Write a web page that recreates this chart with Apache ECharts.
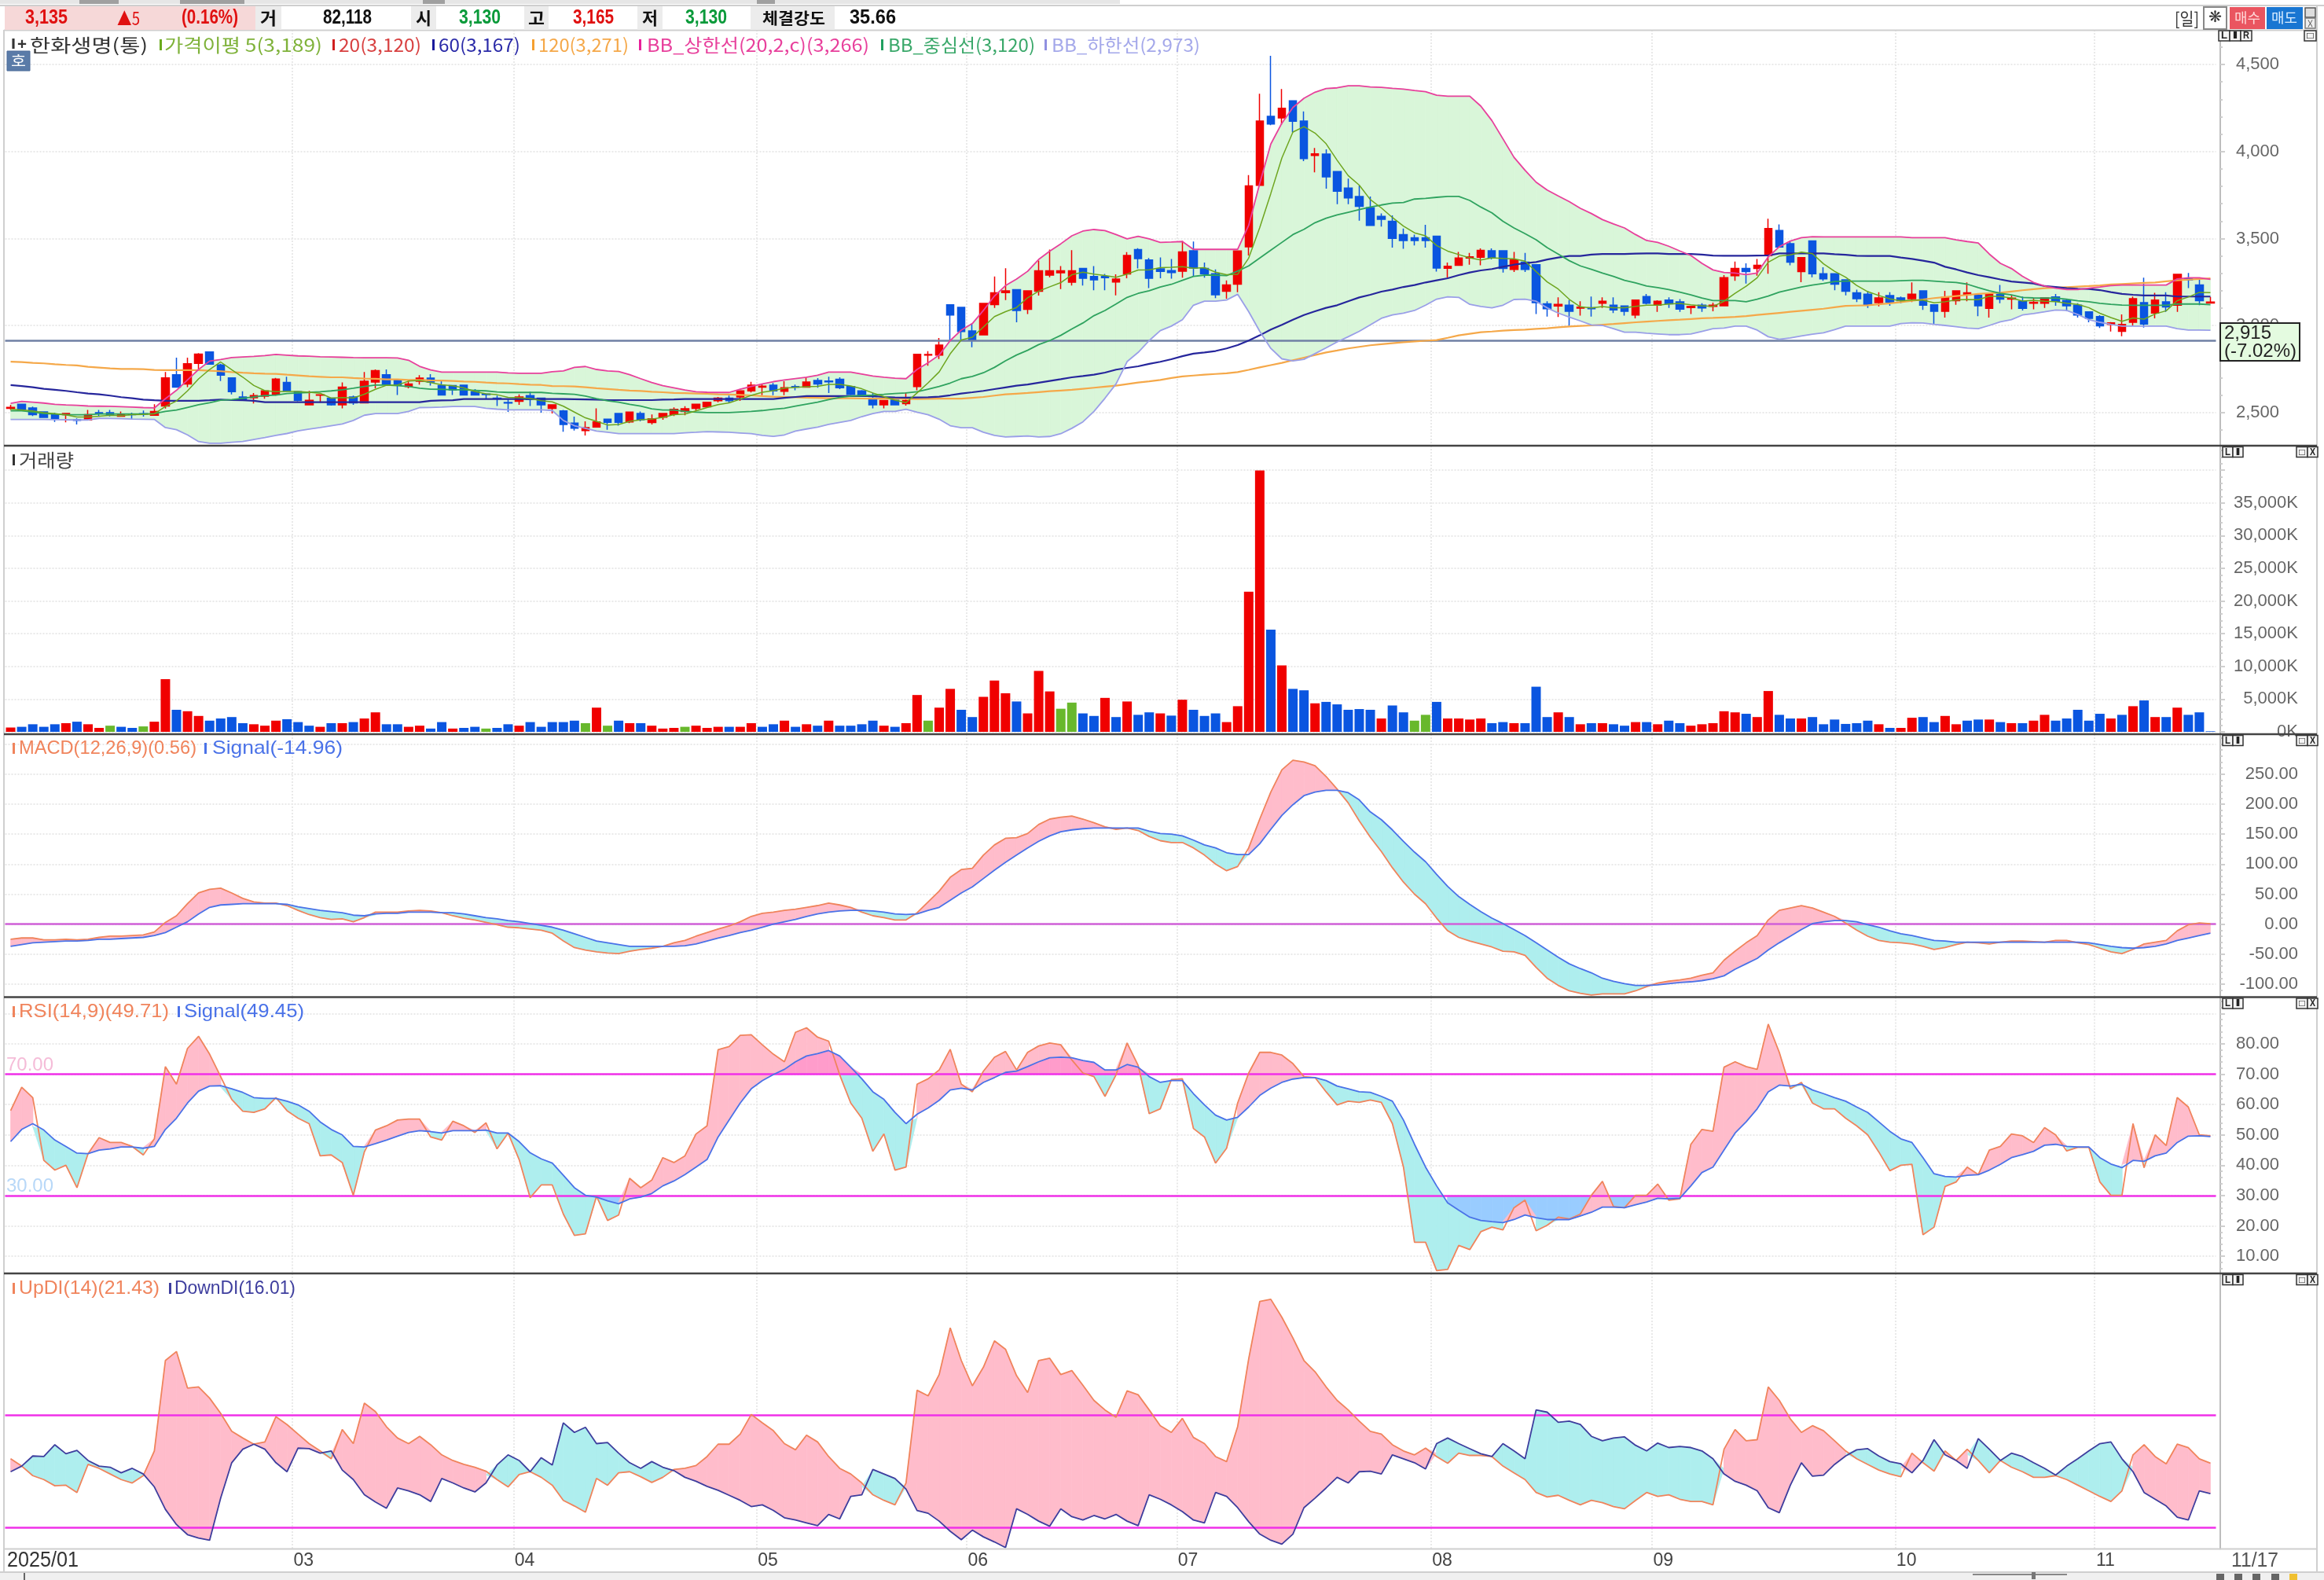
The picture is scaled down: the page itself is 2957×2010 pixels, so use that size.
<!DOCTYPE html>
<html>
<head>
<meta charset="utf-8">
<title>한화생명(통)</title>
<script src="https://cdn.jsdelivr.net/npm/echarts@6/dist/echarts.min.js"></script>
<style>
html,body{margin:0;padding:0;background:#fff;}
#main{width:2957px;height:2010px;}
</style>
</head>
<body>
<div id="main"></div>
<script>
var opens=[
2525,2548,2527,2504,2489,2488,2460,2458,2500,2500,
2479,2490,2494,2485,2538,2718,2665,2783,2849,2774,
2700,2590,2586,2595,2605,2673,2620,2545,2600,2583,
2545,2590,2556,2676,2718,2688,2650,2680,2698,2655,
2655,2658,2620,2607,2583,2558,2565,2598,2583,2525,
2510,2440,2397,2417,2462,2495,2447,2495,2443,2474,
2489,2507,2525,2534,2568,2583,2590,2625,2646,2658,
2623,2650,2646,2685,2682,2692,2650,2625,2583,2545,
2572,2552,2650,2831,2831,3120,3105,2969,2947,3121,
3190,3207,3094,3197,3290,3303,3249,3328,3282,3282,
3251,3297,3437,3377,3326,3316,3313,3430,3328,3298,
3197,3238,3453,3806,4202,4193,4291,4175,3977,3985,
3885,3790,3742,3677,3627,3599,3523,3505,3505,3513,
3329,3346,3388,3393,3430,3430,3323,3365,3350,3125,
3113,3117,3100,3103,3128,3117,3113,3061,3167,3117,
3147,3137,3104,3117,3110,3114,3287,3328,3328,3403,
3546,3471,3310,3486,3298,3298,3263,3188,3180,3132,
3173,3159,3155,3200,3120,3082,3143,3177,3174,3099,
3180,3152,3140,3128,3128,3165,3144,3117,3079,3052,
3007,2967,3019,3132,3072,3137,3117,3270,3233,3130];
var closes=[
2530,2518,2488,2473,2462,2495,2456,2488,2494,2490,
2488,2488,2492,2507,2700,2646,2781,2836,2778,2715,
2620,2571,2598,2625,2693,2625,2571,2571,2602,2545,
2646,2556,2680,2741,2661,2658,2665,2698,2676,2601,
2631,2601,2601,2604,2580,2555,2590,2575,2545,2545,
2432,2410,2414,2447,2444,2444,2503,2459,2465,2495,
2519,2522,2548,2560,2583,2568,2625,2658,2652,2625,
2643,2647,2676,2665,2677,2643,2605,2595,2545,2570,
2545,2570,2835,2834,2888,3061,2966,2917,3127,3188,
3200,3087,3200,3315,3315,3315,3315,3272,3263,3275,
3267,3403,3385,3272,3312,3305,3423,3331,3298,3177,
3233,3429,3802,4175,4158,4249,4174,3960,3987,3855,
3772,3734,3685,3576,3611,3501,3489,3489,3489,3331,
3341,3388,3395,3432,3388,3328,3377,3323,3132,3097,
3122,3082,3106,3097,3140,3090,3082,3147,3128,3140,
3125,3095,3110,3102,3117,3275,3328,3310,3347,3558,
3451,3365,3391,3298,3268,3238,3197,3155,3117,3159,
3135,3143,3180,3117,3082,3162,3200,3188,3114,3182,
3152,3158,3099,3134,3159,3140,3114,3061,3042,2999,
3016,3007,3155,3009,3147,3107,3295,3263,3143,3135];
var lows=[
2515,2515,2480,2470,2447,2444,2432,2455,2482,2478,
2477,2462,2477,2484,2523,2643,2646,2751,2775,2681,
2605,2568,2553,2580,2598,2625,2565,2544,2557,2540,
2525,2545,2555,2640,2658,2601,2640,2661,2655,2600,
2601,2600,2598,2578,2538,2504,2545,2538,2500,2495,
2390,2397,2369,2414,2402,2425,2440,2450,2432,2459,
2480,2485,2510,2530,2560,2558,2567,2616,2600,2600,
2600,2628,2643,2643,2613,2635,2600,2590,2525,2525,
2542,2540,2628,2770,2808,2914,2914,2876,2945,3102,
3147,3019,3067,3173,3278,3210,3230,3230,3203,3203,
3174,3272,3328,3215,3272,3270,3275,3283,3275,3158,
3155,3192,3403,3805,4151,4155,4110,3945,3880,3787,
3697,3697,3603,3575,3569,3448,3441,3460,3448,3310,
3275,3343,3350,3346,3380,3305,3308,3308,3067,3052,
3049,2999,3057,3052,3102,3072,3057,3042,3122,3079,
3102,3079,3067,3079,3082,3110,3257,3242,3287,3298,
3448,3346,3249,3278,3257,3203,3174,3135,3102,3110,
3114,3128,3135,3090,3007,3046,3120,3140,3054,3046,
3128,3094,3087,3094,3102,3114,3082,3046,3019,2986,
2966,2939,2997,2989,3042,3079,3079,3215,3117,3130];
var highs=[
2545,2550,2535,2505,2500,2497,2467,2515,2515,2515,
2507,2500,2512,2548,2733,2816,2816,2842,2850,2781,
2700,2623,2613,2627,2700,2706,2622,2625,2605,2585,
2673,2598,2733,2748,2748,2690,2688,2715,2721,2680,
2656,2660,2635,2610,2598,2575,2605,2620,2585,2547,
2515,2477,2450,2525,2464,2497,2505,2507,2489,2497,
2530,2537,2550,2562,2590,2598,2628,2677,2665,2670,
2680,2661,2703,2698,2706,2703,2652,2630,2613,2572,
2575,2616,2838,2853,2929,3122,3107,3012,3130,3282,
3330,3209,3202,3373,3437,3342,3433,3330,3342,3297,
3294,3422,3445,3388,3392,3383,3486,3483,3362,3323,
3260,3431,3865,4332,4550,4359,4293,4231,4020,4013,
3887,3844,3805,3742,3644,3633,3558,3523,3579,3515,
3362,3423,3418,3444,3444,3432,3423,3418,3352,3140,
3162,3147,3140,3167,3162,3162,3115,3150,3182,3145,
3162,3152,3112,3128,3132,3290,3368,3358,3383,3614,
3581,3486,3393,3488,3335,3300,3265,3207,3197,3192,
3192,3167,3248,3202,3122,3200,3202,3248,3176,3184,
3234,3173,3167,3155,3161,3182,3152,3128,3081,3060,
3020,3064,3167,3275,3188,3192,3297,3302,3263,3165];
var ma5=[
2520,2515,2510,2500,2494,2487,2475,2475,2479,2485,
2483,2488,2490,2493,2535,2567,2625,2694,2748,2791,
2746,2704,2656,2626,2621,2622,2622,2617,2612,2583,
2587,2584,2606,2634,2657,2659,2681,2685,2672,2660,
2654,2642,2622,2608,2603,2588,2586,2581,2569,2562,
2537,2503,2470,2450,2429,2432,2450,2459,2463,2473,
2488,2492,2510,2529,2546,2556,2577,2599,2617,2626,
2641,2645,2649,2651,2662,2662,2653,2637,2613,2592,
2572,2557,2613,2671,2734,2838,2917,2933,2992,3052,
3080,3104,3160,3198,3223,3247,3292,3307,3296,3288,
3278,3296,3319,3320,3333,3335,3339,3329,3333,3307,
3292,3294,3388,3563,3759,3963,4112,4143,4106,4045,
3950,3862,3807,3724,3676,3621,3572,3533,3516,3460,
3428,3408,3389,3377,3389,3386,3384,3370,3310,3251,
3210,3151,3108,3101,3109,3103,3103,3111,3117,3117,
3124,3127,3120,3114,3110,3140,3186,3226,3275,3364,
3399,3406,3422,3413,3355,3312,3278,3231,3195,3173,
3153,3142,3147,3147,3131,3137,3148,3150,3149,3169,
3167,3159,3141,3145,3140,3138,3129,3122,3103,3071,
3046,3025,3044,3037,3067,3085,3143,3164,3191,3189];
var ma60=[
2658,2653,2646,2637,2631,2625,2617,2610,2605,2598,
2589,2583,2575,2571,2568,2568,2568,2568,2571,2575,
2572,2571,2568,2560,2560,2560,2560,2560,2560,2560,
2560,2560,2560,2560,2560,2560,2560,2560,2568,2570,
2571,2578,2578,2578,2578,2578,2578,2578,2578,2578,
2578,2577,2576,2575,2572,2572,2572,2572,2572,2575,
2576,2578,2578,2578,2578,2578,2578,2578,2578,2578,
2585,2590,2595,2595,2595,2595,2595,2595,2595,2590,
2587,2586,2587,2588,2592,2600,2610,2617,2625,2635,
2645,2655,2662,2672,2682,2692,2703,2710,2718,2730,
2747,2757,2766,2780,2792,2807,2824,2839,2846,2854,
2869,2888,2914,2944,2977,3004,3034,3061,3082,3102,
3117,3140,3162,3177,3195,3207,3222,3233,3248,3260,
3272,3290,3305,3317,3325,3338,3350,3358,3365,3380,
3391,3400,3400,3408,3411,3411,3411,3414,3415,3415,
3411,3411,3411,3408,3402,3401,3401,3401,3402,3403,
3415,3415,3415,3415,3415,3410,3407,3401,3400,3400,
3400,3391,3383,3373,3362,3338,3323,3305,3290,3278,
3265,3253,3248,3242,3227,3222,3215,3212,3210,3204,
3192,3182,3177,3173,3173,3173,3167,3167,3167,3167];
var ma120=[
2793,2790,2786,2783,2778,2774,2771,2763,2759,2754,
2751,2751,2750,2745,2744,2744,2744,2744,2741,2738,
2733,2729,2726,2724,2723,2718,2714,2709,2706,2703,
2703,2699,2696,2694,2691,2691,2688,2688,2685,2684,
2682,2679,2677,2673,2670,2668,2664,2661,2659,2653,
2652,2650,2646,2640,2636,2631,2627,2624,2620,2617,
2613,2612,2610,2608,2605,2604,2602,2599,2595,2592,
2590,2588,2586,2585,2583,2583,2583,2581,2580,2580,
2580,2579,2578,2579,2580,2580,2580,2585,2590,2598,
2605,2609,2613,2618,2623,2627,2631,2637,2643,2649,
2655,2664,2673,2680,2688,2699,2708,2713,2718,2722,
2726,2733,2746,2760,2773,2786,2801,2816,2831,2846,
2857,2869,2878,2887,2893,2899,2904,2909,2913,2917,
2930,2944,2953,2962,2966,2971,2974,2977,2981,2985,
2990,2995,2998,3001,3005,3009,3014,3019,3023,3027,
3031,3034,3038,3042,3044,3047,3050,3055,3061,3067,
3073,3079,3085,3091,3097,3105,3113,3115,3117,3122,
3128,3135,3143,3150,3158,3164,3170,3176,3182,3186,
3189,3196,3203,3209,3215,3218,3221,3224,3227,3231,
3236,3239,3242,3245,3248,3254,3260,3264,3268,3271];
var bbUpper=[
2553,2565,2560,2555,2548,2544,2542,2538,2537,2536,
2534,2532,2529,2527,2580,2628,2688,2748,2796,2805,
2816,2820,2823,2828,2834,2830,2826,2824,2821,2820,
2818,2816,2815,2815,2815,2814,2801,2766,2745,2733,
2733,2733,2733,2733,2733,2728,2726,2726,2726,2735,
2740,2760,2765,2748,2740,2736,2718,2695,2673,2655,
2643,2630,2620,2617,2616,2616,2635,2650,2665,2678,
2688,2696,2703,2715,2733,2733,2733,2722,2710,2703,
2698,2695,2748,2786,2831,2914,2974,3012,3087,3170,
3230,3267,3312,3380,3428,3470,3516,3543,3552,3546,
3523,3498,3513,3498,3478,3480,3483,3438,3438,3438,
3438,3438,3576,3817,4043,4163,4253,4306,4341,4362,
4366,4378,4378,4371,4369,4363,4359,4351,4344,4324,
4318,4318,4318,4261,4178,4073,3967,3892,3824,3779,
3745,3712,3674,3644,3609,3584,3561,3523,3489,3478,
3456,3429,3403,3358,3320,3305,3302,3293,3302,3395,
3453,3486,3505,3511,3510,3510,3510,3510,3510,3510,
3510,3510,3505,3505,3505,3505,3493,3483,3475,3411,
3358,3328,3283,3248,3227,3215,3207,3207,3215,3222,
3230,3233,3233,3233,3233,3233,3268,3275,3275,3266];
var bbMiddle=[
2510,2510,2504,2495,2492,2488,2488,2488,2492,2492,
2492,2492,2492,2495,2507,2515,2530,2545,2557,2571,
2575,2583,2590,2598,2601,2610,2613,2616,2620,2625,
2631,2640,2650,2658,2658,2655,2650,2640,2635,2634,
2631,2631,2628,2625,2619,2616,2616,2616,2616,2611,
2608,2605,2595,2580,2568,2560,2548,2537,2522,2515,
2515,2507,2503,2500,2500,2500,2504,2507,2512,2519,
2525,2537,2549,2560,2575,2587,2595,2598,2601,2605,
2610,2613,2620,2635,2650,2670,2695,2708,2729,2760,
2798,2831,2858,2891,2914,2944,2981,3015,3057,3087,
3124,3162,3185,3200,3222,3237,3260,3283,3290,3290,
3287,3313,3343,3388,3433,3478,3523,3553,3591,3617,
3636,3651,3666,3681,3693,3704,3707,3727,3731,3737,
3742,3742,3719,3681,3648,3599,3561,3528,3493,3448,
3411,3373,3343,3323,3302,3283,3260,3245,3227,3218,
3207,3192,3177,3158,3144,3144,3144,3137,3152,3170,
3192,3207,3222,3233,3242,3253,3256,3256,3256,3256,
3256,3258,3260,3260,3256,3251,3248,3238,3218,3200,
3185,3177,3162,3159,3158,3158,3152,3143,3137,3128,
3122,3118,3117,3117,3117,3117,3124,3124,3124,3120];
var bbLower=[
2461,2461,2461,2461,2460,2459,2458,2458,2467,2466,
2465,2463,2462,2461,2414,2402,2372,2334,2324,2324,
2330,2334,2346,2357,2369,2380,2395,2405,2414,2425,
2435,2455,2485,2495,2495,2495,2507,2529,2530,2532,
2535,2535,2535,2525,2520,2516,2516,2516,2516,2512,
2455,2425,2410,2394,2387,2379,2379,2379,2379,2379,
2379,2384,2387,2391,2389,2387,2383,2379,2369,2364,
2372,2394,2406,2417,2432,2444,2455,2477,2495,2507,
2507,2519,2503,2488,2462,2425,2413,2413,2387,2369,
2360,2363,2366,2360,2363,2379,2410,2447,2507,2583,
2665,2793,2846,2914,2971,2997,3034,3117,3140,3140,
3147,3180,3080,2967,2869,2809,2797,2806,2839,2872,
2906,2936,2967,3004,3042,3061,3072,3087,3117,3152,
3165,3162,3122,3110,3102,3117,3150,3152,3140,3102,
3072,3049,3027,3004,3001,2982,2962,2962,2956,2952,
2948,2948,2952,2967,2982,2986,2997,2997,2974,2936,
2921,2929,2941,2951,2959,2977,2997,2997,2997,2997,
2997,3012,3016,3015,3007,3001,2994,2986,2982,3001,
3022,3034,3061,3069,3079,3090,3087,3064,3034,3019,
3007,2997,2997,2997,2997,2997,2982,2974,2974,2973];
var volumes=[
660,770,1160,770,1160,1320,1550,1160,600,940,
770,600,830,1550,8060,3370,3150,2430,1710,2040,
2260,1320,1160,940,1710,1930,1490,940,770,1320,
1320,1490,2040,2980,1160,1160,770,940,500,1490,
500,600,770,500,600,1160,940,1490,770,1490,
1490,1710,1320,3700,940,1710,1320,1320,940,500,
600,770,940,600,770,770,770,1320,770,1160,
1710,770,1160,940,1710,940,940,1160,1710,940,
770,1320,5630,1710,3700,6570,3370,2260,5350,7840,
5900,4640,2820,9330,6180,3530,4470,2820,2430,5190,
2260,4640,2600,2980,2820,2480,4910,3370,2430,2820,
1490,3920,21420,39960,15620,10160,6570,6350,4360,4580,
4200,3370,3480,3370,2040,4030,2980,1710,2600,4580,
2040,2040,1880,2040,1320,1490,1320,1320,6900,2260,
2980,2260,1160,1320,1320,1160,940,1490,1490,1160,
1710,1320,940,1160,1320,3150,2980,2760,2260,6240,
2600,2040,2040,2260,1160,1880,1210,1320,1710,1160,
600,600,2150,2260,1490,2430,1160,1710,1880,1880,
1490,1320,1320,1710,2600,1710,2040,3370,1710,2760,
2040,2600,3920,4800,2260,2260,3700,2600,2980,82];
var volumeKinds=
'rbbbbrbrrg'+'bbgrrbrrbb'+'bbrrrbbbrb'+'rbrrbbrrbb'+'rbbgbbrbbb'+
'bbgrgbrbrr'+'rgrrrbrrbb'+'rbrbrbbbbr'+'brrgrrbbrr'+'rbrrrggbbr'+
'brbbrbrbbb'+'rrrrbrbbrb'+'bbbbrbbggb'+'rrrrbbrbbb'+'rbrbrbbrbr'+
'bbrrrrrbrr'+'bbrbbbbbbr'+'brrbbrrbbr'+'brbrrbbbbb'+'rbrbrbrbbb';
var macd=[
-25,-23,-23,-26,-26,-25,-26,-25,-22,-20,
-20,-19,-18,-13,3,14,34,52,58,60,
52,43,37,35,35,31,23,16,11,8,
9,4,11,20,20,20,22,23,22,19,
14,10,7,3,-1,-5,-6,-8,-10,-15,
-28,-39,-43,-46,-48,-49,-45,-42,-40,-37,
-31,-27,-20,-14,-8,-3,4,13,18,20,
23,25,28,31,35,32,28,20,14,11,
7,7,19,37,55,78,91,93,115,132,
143,144,151,166,175,178,180,175,169,162,
158,160,156,146,139,136,136,127,115,100,
89,96,127,175,220,257,273,270,264,246,
225,202,172,145,121,94,70,50,34,10,
-11,-22,-28,-33,-38,-45,-46,-52,-72,-90,
-102,-111,-115,-118,-116,-116,-116,-111,-104,-98,
-95,-93,-90,-85,-81,-60,-45,-31,-19,7,
23,27,31,27,20,13,2,-10,-20,-27,
-30,-31,-33,-37,-42,-39,-34,-30,-31,-33,
-30,-28,-28,-29,-30,-27,-27,-31,-34,-40,
-46,-49,-42,-33,-30,-27,-11,-1,2,0.56];
var macdSignal=[
-37,-34,-31,-30,-29,-28,-28,-27,-25,-25,
-24,-23,-22,-19,-14,-5,4,17,28,32,
33,34,34,34,34,33,29,26,23,21,
19,15,14,17,18,18,20,20,20,19,
19,17,14,11,9,6,4,1,-2,-5,
-10,-16,-22,-28,-31,-34,-37,-37,-37,-37,
-37,-36,-33,-28,-23,-19,-14,-10,-5,0,
4,8,13,17,20,22,23,23,22,20,
17,16,17,23,28,40,52,62,76,90,
103,115,127,138,147,154,157,159,160,160,
160,160,160,155,151,150,147,140,132,127,
119,116,116,134,158,181,199,214,220,223,
223,219,207,187,174,157,138,120,104,83,
63,46,33,21,10,1,-9,-19,-31,-43,
-55,-66,-74,-81,-90,-95,-99,-102,-102,-101,
-99,-97,-96,-94,-91,-86,-75,-66,-57,-43,
-31,-20,-9,1,4,6,6,4,-1,-5,
-11,-16,-19,-23,-27,-28,-30,-30,-30,-30,
-30,-30,-30,-30,-30,-30,-30,-30,-31,-34,
-37,-39,-40,-39,-37,-33,-27,-23,-19,-14.96];
var rsi=[
58.0,65.7,62.3,41.6,38.4,40.0,32.6,43.8,49.1,47.5,
47.5,46.2,43.4,48.7,72.5,66.7,78.5,82.5,76.6,69.2,
61.7,57.8,57.4,58.6,62.3,58.0,55.5,53.7,43.1,43.4,
40.9,30.1,44.4,51.6,53.0,54.9,55.2,55.2,49.3,48.3,
54.5,53.0,50.8,54.0,45.4,50.6,41.9,29.3,33.5,33.5,
23.9,16.9,17.4,29.8,21.8,23.6,35.7,32.6,35.1,42.5,
40.9,43.1,50.3,53.0,78.1,79.1,82.8,83.0,79.7,76.6,
74.1,83.8,85.3,82.2,80.9,69.8,60.5,55.5,44.6,50.3,
38.4,39.4,66.7,68.5,71.4,78.2,66.7,64.2,71.0,75.6,
77.5,71.4,77.2,79.3,80.3,79.7,74.7,70.4,69.2,62.7,
69.8,80.3,72.9,57.0,58.6,68.2,68.5,52.1,49.3,40.7,
45.6,60.5,70.4,77.2,77.2,76.3,73.5,69.2,68.9,64.2,
59.9,61.1,60.7,61.5,60.7,53.7,39.4,14.6,14.6,5.3,
5.7,13.6,12.2,18.1,19.6,18.7,26.0,28.5,18.4,20.2,
22.9,22.3,23.9,30.1,34.7,26.4,26.0,30.1,30.1,33.8,
28.5,28.9,46.9,51.8,51.2,72.3,74.1,72.5,71.6,86.5,
77.2,65.2,67.3,60.5,58.6,58.6,55.5,53.0,50.0,44.4,
38.2,40.0,40.3,17.1,19.6,33.0,34.5,39.4,36.9,45.0,
46.2,50.3,49.7,47.5,52.4,50.0,44.7,45.9,45.9,34.5,
30.1,30.1,53.7,39.2,50.0,46.5,62.3,59.2,50.0,49.71];
var rsiSignal=[
47.8,51.8,53.7,51.6,48.3,46.2,44.0,43.8,45.0,45.4,
46.0,46.0,45.6,46.2,51.8,55.5,60.5,64.4,66.1,66.2,
65.2,64.0,62.3,62.0,62.0,61.1,59.9,57.8,54.3,51.8,
50.0,46.2,46.0,47.1,48.3,49.6,50.8,51.4,51.1,50.6,
51.4,51.4,51.4,51.6,50.6,50.6,47.8,44.1,42.1,40.7,
36.7,32.6,30.1,29.5,28.3,27.3,28.9,29.5,30.7,33.2,
34.8,36.9,39.4,41.9,49.3,54.9,60.5,65.2,67.9,69.9,
71.6,74.1,76.0,76.8,77.8,76.0,72.3,68.5,64.2,61.7,
57.4,53.7,56.8,58.9,61.4,64.8,65.4,64.8,67.3,68.9,
70.6,71.0,72.5,74.1,75.4,75.6,75.4,74.5,73.9,71.4,
71.4,73.2,72.3,69.2,67.3,67.9,67.9,63.6,59.9,56.5,
54.9,55.8,59.2,63.0,65.4,67.3,68.4,68.9,68.9,67.9,
66.1,65.2,64.2,64.0,62.7,61.1,54.9,46.9,39.4,33.2,
27.6,25.2,22.9,21.8,21.4,21.1,22.1,23.6,22.7,22.1,
22.1,22.1,23.3,24.5,26.2,26.2,26.0,27.0,27.9,29.1,
28.9,29.1,33.2,37.6,39.4,45.0,50.6,54.3,58.6,64.2,
66.4,66.1,66.7,64.8,63.6,62.3,61.1,59.2,57.4,54.3,
51.2,48.7,47.5,42.5,37.2,36.3,36.1,36.7,36.9,38.4,
40.3,42.5,43.5,44.6,46.6,46.9,46.2,46.0,46.0,42.5,
40.4,39.2,41.6,41.3,43.1,44.0,47.5,49.6,49.7,49.45];
var upDI=[
22.2,20.9,19.2,18.5,17.4,17.5,16.2,21.2,20.5,19.5,
18.5,17.9,19.2,23.6,39.7,41.3,34.8,35.0,33.0,30.3,
27.1,25.9,24.8,25.2,29.7,28.3,26.6,24.9,23.6,22.2,
27.4,24.9,32.1,30.6,27.9,25.9,24.9,26.2,24.7,22.9,
21.9,21.2,20.7,20.0,18.5,17.2,19.4,19.9,18.9,17.5,
14.8,13.8,12.7,18.7,17.5,19.7,19.9,19.0,18.0,18.9,
20.3,20.5,21.0,22.6,24.8,24.8,26.6,30.1,28.6,27.2,
24.9,23.8,26.4,25.2,22.6,20.5,19.5,17.9,15.8,14.8,
14.0,17.9,34.4,33.4,37.2,45.5,39.7,35.2,38.5,43.2,
41.7,37.0,34.0,39.7,40.1,37.2,37.9,35.3,32.6,30.9,
29.6,34.3,33.6,30.9,28.1,26.9,29.4,26.0,24.9,22.6,
21.7,27.9,40.0,50.2,50.6,47.4,43.7,39.7,37.7,35.0,
32.6,30.9,28.9,27.1,26.6,24.7,23.6,22.9,24.1,22.6,
21.4,23.2,22.8,22.8,22.6,20.9,19.7,18.5,16.2,15.4,
15.7,14.8,14.0,14.8,14.4,13.7,13.3,14.8,16.2,15.5,
15.8,15.0,14.6,14.6,14.0,23.9,27.4,25.4,25.6,35.0,
32.6,29.3,26.9,28.1,27.2,25.4,23.6,22.2,21.2,20.2,
19.5,19.0,23.2,21.5,20.0,23.6,21.9,23.9,21.9,19.7,
21.9,20.7,19.9,18.9,18.9,19.2,18.5,17.5,16.5,15.5,
14.6,16.5,22.9,24.7,22.6,21.3,24.8,24.2,22.2,21.43];
var downDI=[
19.9,20.9,22.7,22.6,24.7,23.1,23.7,21.9,20.9,20.7,
19.7,20.5,19.5,17.2,13.2,10.5,8.7,8.1,7.7,15.2,
21.5,23.9,24.8,23.9,21.5,19.9,24.1,24.0,23.2,23.6,
20.2,18.5,15.8,14.5,13.4,17.0,16.5,15.8,14.6,18.7,
17.9,17.0,16.3,17.9,21.1,22.9,21.9,19.9,22.4,21.1,
28.6,26.9,27.8,24.9,25.1,23.2,21.5,20.5,21.7,20.7,
20.1,18.9,18.2,17.3,16.6,15.7,14.8,13.7,14.0,13.0,
11.7,11.3,10.8,10.3,12.3,11.5,15.5,15.8,20.3,19.5,
18.7,16.8,13.0,12.5,11.1,9.3,7.8,9.5,8.3,7.4,
6.4,13.3,12.3,11.1,10.2,13.3,11.9,11.3,12.1,11.5,
12.3,11.1,10.3,15.8,15.0,14.0,12.8,11.3,10.8,16.2,
15.5,13.5,11.0,8.8,7.7,7.0,8.8,13.5,15.2,17.0,
18.9,17.9,19.9,20.0,19.5,22.9,22.2,21.5,20.4,24.9,
25.9,24.9,24.0,23.1,22.6,24.9,23.6,22.2,30.9,30.5,
28.7,28.9,28.3,26.2,25.4,25.9,26.1,24.6,23.6,25.0,
24.2,24.4,24.2,23.6,22.2,19.5,18.2,17.5,16.5,13.5,
12.6,17.5,21.5,19.1,19.3,21.2,22.7,23.8,24.0,22.7,
21.7,21.3,19.7,21.9,25.6,22.9,21.9,20.5,25.8,23.9,
21.9,23.2,22.6,21.5,20.5,19.3,20.9,22.2,23.6,24.9,
25.2,22.2,19.9,16.2,15.0,13.8,11.8,11.3,16.5,16.01];
// first bar of each month, 02 has a grid line but no label
var monthStarts=[6,26,46,68,87,106,129,149,171,189];
var monthLabels=['','03','04','05','06','07','08','09','10','11'];

var RED='#f00000',BLUE='#0a55e0',GREEN='#68b82c';
var numFont='"Liberation Sans",sans-serif';
var krFont='"Noto Sans CJK KR",sans-serif';
var GRIDLINE='#e9e9e9';

var categories=opens.map(function(v,i){
    var m=monthStarts.indexOf(i);
    return m>=0 ? (monthLabels[m]||'\u200b') : String(i);
});
function isMonthStart(index){ return monthStarts.indexOf(index)>=0; }

var level70=opens.map(function(){return 70;});
var level30=opens.map(function(){return 30;});

// area between two series, split where they cross
function fillBetween(gridIndex,a,b,colorAbove,colorBelow,z){
    return {
        type:'custom',xAxisIndex:gridIndex,yAxisIndex:gridIndex,z:z,silent:true,clip:true,animation:false,
        encode:{x:0,y:1},
        data:a.map(function(v,i){return [i,v,b[i]];}),
        renderItem:function(params,api){
            var i=params.dataIndex;
            if(i>=a.length-1) return null;
            var a0=a[i],a1=a[i+1],b0=b[i],b1=b[i+1];
            var d0=a0-b0,d1=a1-b1,parts=[];
            function poly(x0,av0,bv0,x1,av1,bv1,color){
                if(!color) return;
                parts.push({type:'polygon',
                    shape:{points:[api.coord([x0,av0]),api.coord([x1,av1]),api.coord([x1,bv1]),api.coord([x0,bv0])]},
                    style:{fill:color,stroke:color,lineWidth:0.7}});
            }
            if(d0*d1<0){
                var t=d0/(d0-d1),xm=i+t,vm=a0+(a1-a0)*t;
                poly(i,a0,b0,xm,vm,vm,d0>0?colorAbove:colorBelow);
                poly(xm,vm,vm,i+1,a1,b1,d1>0?colorAbove:colorBelow);
            }else{
                poly(i,a0,b0,i+1,a1,b1,(d0+d1)>=0?colorAbove:colorBelow);
            }
            return {type:'group',children:parts};
        }
    };
}
function lineSeries(gridIndex,data,color,width,z){
    return {type:'line',xAxisIndex:gridIndex,yAxisIndex:gridIndex,data:data,symbol:'none',silent:true,animation:false,z:z,
        lineStyle:{color:color,width:width}};
}
function levelLines(gridIndex,values,color,width){
    return {type:'line',xAxisIndex:gridIndex,yAxisIndex:gridIndex,data:[],z:6,silent:true,animation:false,
        markLine:{symbol:'none',silent:true,animation:false,label:{show:false},
            lineStyle:{color:color,width:width,type:'solid'},
            data:values.map(function(v){return {yAxis:v};})}};
}

var gridLeft=6.5,gridWidth=2813;
var panels=[
    {top:38,height:529,min:2310,max:4699,split:5},
    {top:567,height:367,min:-360,max:43750,split:9},
    {top:934,height:334.5,min:-121.5,max:316.4,split:8},
    {top:1268.5,height:351.5,min:4.35,max:95.4,split:9},
    {top:1620,height:350.5,min:6.15,max:55.2,split:5}
];
var labelSets=[
    {margin:75,fmt:function(v){return echarts.format.addCommas(v);}},
    {margin:99,fmt:function(v){return v>35000?'':echarts.format.addCommas(v)+'K';}},
    {margin:99,fmt:function(v){return v>250?'':v.toFixed(2);}},
    {margin:75,fmt:function(v){return v>80?'':v.toFixed(2);}},
    null
];

var grids=[],xAxes=[],yAxes=[];
panels.forEach(function(p,idx){
    grids.push({left:gridLeft,width:gridWidth,top:p.top,height:p.height,containLabel:false});
    xAxes.push({
        type:'category',gridIndex:idx,data:categories,boundaryGap:true,
        axisLine:{show:false,onZero:false},axisTick:{show:false},
        axisLabel:idx===4?{
            show:true,interval:function(i){return isMonthStart(i);},
            align:'center',padding:[0,0,0,14],margin:4,
            fontFamily:numFont,fontSize:23,color:'#444'
        }:{show:false},
        splitLine:{show:true,interval:function(i){return isMonthStart(i);},showMinLine:false,showMaxLine:false,
            lineStyle:{color:GRIDLINE,type:'dotted',width:2}}
    });
    var labels=labelSets[idx];
    yAxes.push({
        type:'value',gridIndex:idx,position:'right',offset:5.5,min:p.min,max:p.max,splitNumber:p.split,scale:false,
        axisLine:{show:true,onZero:false,lineStyle:{color:'#bdbdbd',width:2}},
        axisTick:{show:!!labels,length:6,lineStyle:{color:'#cfcfcf',width:2}},
        minorTick:{show:!!labels,splitNumber:5,length:3,lineStyle:{color:'#cfcfcf',width:2}},
        axisLabel:labels?{show:true,showMinLabel:false,showMaxLabel:false,align:'right',margin:labels.margin,
            fontFamily:numFont,fontSize:22,color:'#666',formatter:labels.fmt}:{show:false},
        splitLine:{show:!!labels,showMinLine:false,showMaxLine:false,lineStyle:{color:GRIDLINE,type:'dotted',width:2}}
    });
});

var series=[];
// price panel
series.push(fillBetween(0,bbUpper,bbLower,'#d9f6d9','#d9f6d9',2));
series.push(levelLines(0,[2915],'#6f80a4',2.5));
series.push({type:'candlestick',xAxisIndex:0,yAxisIndex:0,z:4,silent:true,animation:false,barWidth:10,
    data:opens.map(function(o,i){return [o,closes[i],lows[i],highs[i]];}),
    itemStyle:{color:RED,color0:BLUE,borderColor:RED,borderColor0:BLUE,borderWidth:1.5}});
series.push(lineSeries(0,ma120,'#f5a849',2.2,7));
series.push(lineSeries(0,ma60,'#26269c',2.2,7));
series.push(lineSeries(0,bbLower,'#9a9fe8',1.8,7));
series.push(lineSeries(0,bbUpper,'#e8409c',1.8,7));
series.push(lineSeries(0,bbMiddle,'#2fa35f',1.8,7));
series.push(lineSeries(0,ma5,'#6ea51f',1.5,8));
// volume panel
series.push({type:'bar',xAxisIndex:1,yAxisIndex:1,z:4,silent:true,animation:false,barWidth:12,
    data:volumes.map(function(v,i){
        var k=volumeKinds.charAt(i);
        return {value:v,itemStyle:{color:k==='r'?RED:(k==='g'?GREEN:BLUE)}};
    })});
// MACD panel
series.push(fillBetween(2,macd,macdSignal,'#ffbccb','#aeeeee',2));
series.push(levelLines(2,[0],'#d060d8',2.5));
series.push(lineSeries(2,macd,'#f0845c',1.8,7));
series.push(lineSeries(2,macdSignal,'#4a72e8',1.8,7));
// RSI panel
series.push(fillBetween(3,rsiSignal,level30,null,'#99ccff',1));
series.push(fillBetween(3,rsi,rsiSignal,'#ffbccb','#aeeeee',2));
series.push(fillBetween(3,rsiSignal,level70,'#ff9ccb',null,3));
series.push(levelLines(3,[70,30],'#f030e8',2.5));
series.push(lineSeries(3,rsi,'#f0845c',1.8,7));
series.push(lineSeries(3,rsiSignal,'#4a72e8',1.8,7));
// DI panel
series.push(fillBetween(4,upDI,downDI,'#ffbccb','#aeeeee',2));
series.push(levelLines(4,[30,10],'#f030e8',2.5));
series.push(lineSeries(4,upDI,'#f0845c',1.8,7));
series.push(lineSeries(4,downDI,'#3e3e9e',1.8,7));

// screen furniture and the captions, each stretched to the width it has on screen
var measureCtx=document.createElement('canvas').getContext('2d');
var elements=[];
function box(x,y,w,h,fill,stroke,lw){
    elements.push({type:'rect',silent:true,z:100,shape:{x:x,y:y,width:w,height:h},
        style:{fill:fill||'transparent',stroke:stroke||null,lineWidth:lw||0}});
}
function hline(x0,x1,y,color,w){ box(x0,y-w/2,x1-x0,w,color); }
function vline(x,y0,y1,color,w){ box(x-w/2,y0,w,y1-y0,color); }
function txt(str,x,y,w,color,size,family,weight){
    var font=(weight?weight+' ':'')+size+'px '+family;
    measureCtx.font=font;
    elements.push({type:'text',silent:true,z:101,x:x,y:y,scaleX:w/measureCtx.measureText(str).width,
        style:{text:str,x:0,y:0,fill:color,font:font,align:'left',verticalAlign:'middle'}});
}
function tick(x,y,color){ box(x,y-7,3,14,color); }

// top strip
box(0,0,1425,5,'#e6e6e6');
[[101,50],[229,82],[538,28],[963,23]].forEach(function(s){ box(s[0],0,s[1],5,'#a0a0a0'); });
hline(0,2957,7,'#cfcfcf',2);
hline(5,2948,38.5,'#cfcfcf',2);
// quote row
box(6,8,319,30,'#f6d8d8');
[[325,33],[523,32],[667,31],[811,32],[955,107]].forEach(function(c){ box(c[0],8,c[1],30,'#ececec'); });
txt('3,135',32,23,54,'#e01010',25,numFont,'bold');
txt('▲5',149,23,29,'#e01010',23,krFont);
txt('(0.16%)',231,23,72,'#e01010',25,numFont,'bold');
txt('거',331,23,21,'#111',22,krFont,'bold');
txt('82,118',411,23,62,'#111',25,numFont,'bold');
txt('시',529,23,20,'#111',22,krFont,'bold');
txt('3,130',584,23,53,'#0a9a3a',25,numFont,'bold');
txt('고',672,23,21,'#111',22,krFont,'bold');
txt('3,165',729,23,52,'#e01010',25,numFont,'bold');
txt('저',817,23,20,'#111',22,krFont,'bold');
txt('3,130',872,23,53,'#0a9a3a',25,numFont,'bold');
txt('체결강도',970,23,80,'#111',20,krFont,'bold');
txt('35.66',1081,23,59,'#111',25,numFont,'bold');
// top right buttons
txt('[일]',2767,24,31,'#333',22,krFont);
box(2804,9,29,28,'#fff','#888',2);
txt('❋',2810,23,17,'#333',20,'"DejaVu Sans",sans-serif');
box(2837,9,45,28,'#ea5560');
txt('매수',2843,23,33,'#ffd8d8',17,krFont);
box(2884,9,46,28,'#1976d2');
txt('매도',2890,23,33,'#d8ecff',17,krFont);
box(2933,10,13,12,'#ddd','#555',1.5);
box(2933,23,13,13,'#eee','#777',1.5);
txt('×',2935,29,9,'#444',15,krFont);

// panel frame
vline(5,38,2000,'#cfcfcf',2);
vline(2948,7,2000,'#cfcfcf',2);
[567,934,1268.5,1620].forEach(function(y){ hline(5,2948,y,'#444',2.5); });
hline(5,2948,1970.5,'#cfcfcf',2);
hline(0,2957,2000,'#cfcfcf',2);
box(0,2001,2957,9,'#f0f0f0');
box(30,2001,2,9,'#666');
hline(2510,2630,2003,'#888',2);
box(2585,2000,5,9,'#777');
[2820,2843,2866,2890].forEach(function(x){ box(x,2002,10,8,'#666'); });
box(2913,2002,10,8,'#f0c030');

// L I R buttons of each panel
function smallButton(x,y,w,h,label){
    box(x,y,w,h,'#f4f4f4','#333',1.5);
    txt(label,x+3,y+h/2+0.5,w-6,'#222',12,numFont,'bold');
}
function panelButtons(y){
    smallButton(2828,y,13,13,'L');
    smallButton(2841,y,13,13,'I');
    smallButton(2922,y,14,13,'□');
    smallButton(2936,y,13,13,'X');
}
smallButton(2823,39,14,13,'L');
smallButton(2837,39,14,13,'I');
smallButton(2851,39,14,13,'R');
smallButton(2932,39,15,13,'□');
panelButtons(568.5);
panelButtons(935.5);
panelButtons(1270);
panelButtons(1621.5);

// price caption
txt('I',14,57,6,'#333',18,numFont,'bold');
txt('+',22,57,12,'#333',20,numFont,'bold');
txt('한화생명(통)',38,57,150,'#333',23,krFont);
tick(203,57,'#6aaa1e'); txt('가격이평 5(3,189)',209,57,201,'#7fb23a',23,krFont);
tick(423,57,'#d02020'); txt('20(3,120)',431,57,105,'#d84040',23,krFont);
tick(550,57,'#1a1a9c'); txt('60(3,167)',558,57,104,'#2a2aa8',23,krFont);
tick(677,57,'#f5a030'); txt('120(3,271)',685,57,115,'#f5a849',23,krFont);
tick(813,57,'#e8209a'); txt('BB_상한선(20,2,c)(3,266)',823,57,283,'#e8409c',23,krFont);
tick(1121,57,'#20a060'); txt('BB_중심선(3,120)',1130,57,187,'#3aa86a',23,krFont);
tick(1329,57,'#9090e0'); txt('BB_하한선(2,973)',1338,57,189,'#a4a8ea',23,krFont);
box(9,65,29,25,'#5a7ba8','#4a6a98',1);
txt('호',14,77,19,'#fff',18,krFont);
// callout on the price axis
box(2825,411,101,48,'#e4fbe0','#222',2);
txt('2,915',2830,424,60,'#222',24,numFont);
txt('(-7.02%)',2830,447,92,'#222',24,numFont);
// sub panel captions
tick(16,585,'#333'); txt('거래량',24,585,70,'#444',23,krFont);
tick(16,952,'#f0845c'); txt('MACD(12,26,9)(0.56)',24,952,226,'#f0845c',24,numFont);
tick(260,952,'#4a72e8'); txt('Signal(-14.96)',270,952,166,'#4a72e8',24,numFont);
tick(16,1287,'#f0845c'); txt('RSI(14,9)(49.71)',24,1287,191,'#f0845c',24,numFont);
tick(226,1287,'#4a72e8'); txt('Signal(49.45)',234,1287,153,'#4a72e8',24,numFont);
txt('70.00',8,1355,60,'#f5bcd8',24,numFont);
txt('30.00',8,1509,60,'#b8d8f8',24,numFont);
tick(16,1639,'#f0845c'); txt('UpDI(14)(21.43)',24,1639,179,'#f0845c',24,numFont);
tick(215,1639,'#3e3e9e'); txt('DownDI(16.01)',222,1639,154,'#3e3e9e',24,numFont);
// date row
txt('2025/01',9,1986,91,'#333',27,numFont);
txt('11/17',2839,1986,60,'#555',25,numFont);

var option={
    animation:false,
    backgroundColor:'#fff',
    grid:grids,xAxis:xAxes,yAxis:yAxes,series:series,
    graphic:{elements:elements}
};
var myChart=echarts.init(document.getElementById('main'),null,{renderer:'canvas'});
myChart.setOption(option);
</script>
</body>
</html>
